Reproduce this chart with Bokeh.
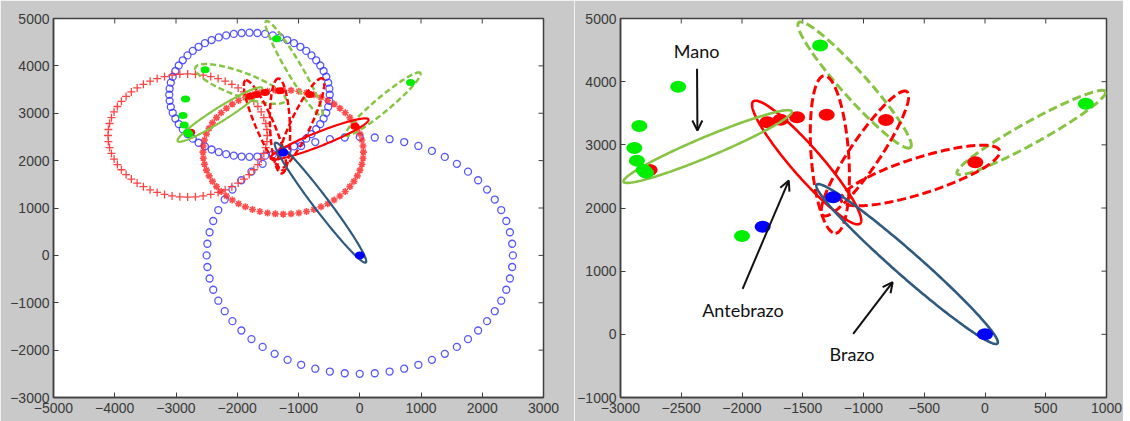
import numpy as np
from bokeh.plotting import figure
from bokeh.models import ColumnDataSource, Arrow, OpenHead, FixedTicker, Range1d
from bokeh.layouts import row
from bokeh.embed import file_html
from bokeh.resources import INLINE
from bokeh.core.properties import value

# ---------------- data ----------------
# joint points
green_x = [-1357, -2525, -2845, -2886, -2865, -2810, -2790, 830]
green_y = [4572, 3920, 3300, 2950, 2750, 2600, 2560, 3650]
red_x = [-2760, -1792, -1683, -1547, -1303, -815, -80]
red_y = [2600, 3358, 3396, 3437, 3475, 3395, 2725]
blue_x = [0, -1250]
blue_y = [0, 2170]
# points only in the zoomed panel
green_x_zoom = [-2000]
green_y_zoom = [1555]
blue_x_zoom = [-1830]
blue_y_zoom = [1705]

# reach rings (left panel): centre x, centre y, radius, number of markers
ring_blue_big = (0, 0, 2500, 64)
ring_blue_small = (-1800, 3390, 1310, 64)
ring_red_plus = (-2810, 2530, 1300, 64)
ring_red_star = (-1250, 2180, 1310, 64)

# ellipses: centre x, centre y, half-axis vector u (x, y), conjugate half-axis v (x, y)
ell_hand = (-2283, 2973, 692, 557, -31, 146)          # green solid (Mano)
ell_arm = (-641, 1113, 744, -1257, 67, 149)           # dark blue solid (Brazo)
ell_green_d1 = (-1073, 3947, 460, -990, 79, 138)      # green dashed
ell_green_d2 = (381, 3195, 611, 650, -43, 153)        # green dashed
# right panel only
ell_forearm_r = (-1468, 2720, 440, -966, 91, 157)     # red solid (Antebrazo)
ell_red_d_r = [(-1277, 2847, 47, -1247, 154, 22),
               (-988, 2863, 345, 980, -101, 134),
               (-532, 2514, 652, 396, -44, 272)]
# left panel only
ell_forearm_l = (-657, 2458, 800, 411, -42, 137)
ell_red_d_l = [(-1547, 2743, -318, 949, -135, -75),
               (-1302, 2732, -27, 1002, -163, -7),
               (-959, 2785, 351, 949, -147, 91)]
ell_green_d3_l = (-1947, 3618, 736, -346, 67, 238)

# annotations (right panel)
label_text = ["Mano", "Antebrazo", "Brazo"]
label_x = [-2373, -1992, -1094]
label_y = [4493, 393, -319]
arrow_x0 = [-2370, -1995, -1085]
arrow_y0 = [4203, 721, 8]
arrow_x1 = [-2367, -1615, -760]
arrow_y1 = [3227, 2435, 825]

left_xrange = (-5000, 3000)
left_yrange = (-3000, 5000)
right_xrange = (-3000, 1000)
right_yrange = (-1000, 5000)
left_xticks = [-5000, -4000, -3000, -2000, -1000, 0, 1000, 2000, 3000]
left_yticks = [-3000, -2000, -1000, 0, 1000, 2000, 3000, 4000, 5000]
right_xticks = [-3000, -2500, -2000, -1500, -1000, -500, 0, 500, 1000]
right_yticks = [-1000, 0, 1000, 2000, 3000, 4000, 5000]

# ---------------- helpers ----------------
T = np.linspace(0, 2 * np.pi, 241)


def ellipse_xy(e):
    cx, cy, ux, uy, vx, vy = e
    return (cx + ux * np.cos(T) + vx * np.sin(T)).tolist(), (cy + uy * np.cos(T) + vy * np.sin(T)).tolist()


def ring_xy(r):
    cx, cy, rad, n = r
    a = np.arange(n) * 2 * np.pi / n
    return (cx + rad * np.cos(a)).tolist(), (cy + rad * np.sin(a)).tolist()


def draw_ellipses(p, ells, color, width, dash="solid"):
    xs, ys = [], []
    for e in ells:
        x, y = ellipse_xy(e)
        xs.append(x)
        ys.append(y)
    p.multi_line(xs=xs, ys=ys, line_color=color, line_width=width, line_dash=dash)


BG = "#c9c9c9"
AX = "#404040"
FONT = "Liberation Sans"
GREEN_E = "#88c444"
BLUE_E = "#2f5a80"


def make_fig(width, xr, yr, xt, yt, bl, br):
    p = figure(width=width, height=421, x_range=Range1d(*xr), y_range=Range1d(*yr),
               output_backend="svg", toolbar_location=None,
               min_border_left=bl, min_border_right=br, min_border_top=18, min_border_bottom=24,
               border_fill_color=BG, background_fill_color="white",
               outline_line_color=AX, outline_line_width=1.5)
    p.grid.visible = False
    for ax, ticks in ((p.xaxis[0], xt), (p.yaxis[0], yt)):
        ax.ticker = FixedTicker(ticks=ticks)
        ax.minor_tick_line_color = None
        ax.major_tick_in = 5
        ax.major_tick_out = 0
        ax.axis_line_color = AX
        ax.axis_line_width = 1.5
        ax.major_tick_line_color = AX
        ax.major_label_text_font = FONT
        ax.major_label_text_font_size = "14px"
        ax.major_label_text_color = "#3a3a3a"
    p.xaxis[0].major_label_standoff = 5
    p.yaxis[0].major_label_standoff = 4
    # inward ticks on the top and right edges of the box
    p.ray(x=xt, y=[yr[1]] * len(xt), length=5, length_units="screen", angle=-np.pi / 2,
          line_color=AX, line_width=1)
    p.ray(x=[xr[1]] * len(yt), y=yt, length=5, length_units="screen", angle=np.pi,
          line_color=AX, line_width=1)
    return p


# ---------------- left panel ----------------
p1 = make_fig(574, left_xrange, left_yrange, left_xticks, left_yticks, 53, 31)

bx, by = ring_xy(ring_blue_big)
p1.scatter(bx, by, marker="circle", size=7, fill_color=None, line_color="#3a3aff", line_width=1.3, line_alpha=0.85)
bx, by = ring_xy(ring_blue_small)
p1.scatter(bx, by, marker="circle", size=7, fill_color=None, line_color="#3a3aff", line_width=1.3, line_alpha=0.85)
rx, ry = ring_xy(ring_red_plus)
p1.scatter(rx, ry, marker="cross", size=8, line_color="#ff3030", line_width=1.3, line_alpha=0.9)
rx, ry = ring_xy(ring_red_star)
p1.scatter(rx, ry, marker="asterisk", size=7, line_color="#ff2020", line_width=1.6, line_alpha=0.8)

draw_ellipses(p1, [ell_green_d1, ell_green_d2, ell_green_d3_l], GREEN_E, 2.5, "6 3")
draw_ellipses(p1, ell_red_d_l, "#ff0000", 2.5, "6 3")
draw_ellipses(p1, [ell_forearm_l], "#ff0000", 2.2)
draw_ellipses(p1, [ell_hand], GREEN_E, 2.2)
draw_ellipses(p1, [ell_arm], BLUE_E, 2.2)

p1.ellipse(red_x, red_y, width=9, height=7, width_units="screen", height_units="screen",
           fill_color="#ff0000", line_color=None)
p1.ellipse(green_x, green_y, width=9, height=7, width_units="screen", height_units="screen",
           fill_color="#00ee00", line_color=None)
p1.ellipse(blue_x, blue_y, width=10, height=8, width_units="screen", height_units="screen",
           fill_color="#0000ff", line_color=None)

# ---------------- right panel ----------------
p2 = make_fig(549, right_xrange, right_yrange, right_xticks, right_yticks, 41, 17)

draw_ellipses(p2, [ell_green_d1, ell_green_d2], GREEN_E, 3, "9 4")
draw_ellipses(p2, ell_red_d_r, "#ff0000", 3, "9 4")
draw_ellipses(p2, [ell_forearm_r], "#ff0000", 2.6)
draw_ellipses(p2, [ell_arm], BLUE_E, 2.6)

p2.ellipse(red_x, red_y, width=16, height=12, width_units="screen", height_units="screen",
           fill_color="#ff0000", line_color=None)
draw_ellipses(p2, [ell_hand], GREEN_E, 2.6)
p2.ellipse(green_x + green_x_zoom, green_y + green_y_zoom, width=16, height=12,
           width_units="screen", height_units="screen", fill_color="#00ee00", line_color=None)
p2.ellipse(blue_x + blue_x_zoom, blue_y + blue_y_zoom, width=16, height=12,
           width_units="screen", height_units="screen", fill_color="#0000ff", line_color=None)

asrc = ColumnDataSource(dict(x0=arrow_x0, y0=arrow_y0, x1=arrow_x1, y1=arrow_y1))
p2.add_layout(Arrow(end=OpenHead(size=10, line_width=2, line_color="#111111"),
                    x_start="x0", y_start="y0", x_end="x1", y_end="y1",
                    line_width=2, line_color="#111111", source=asrc))
tsrc = ColumnDataSource(dict(x=label_x, y=label_y, t=label_text))
p2.text(x="x", y="y", text="t", source=tsrc, text_font=value("Lato"), text_font_size=value("18px"),
        text_color="#111111", text_align="center", text_baseline="middle")

layout = row(p1, p2, spacing=0)
open("out.html", "w").write(file_html(layout, INLINE))
